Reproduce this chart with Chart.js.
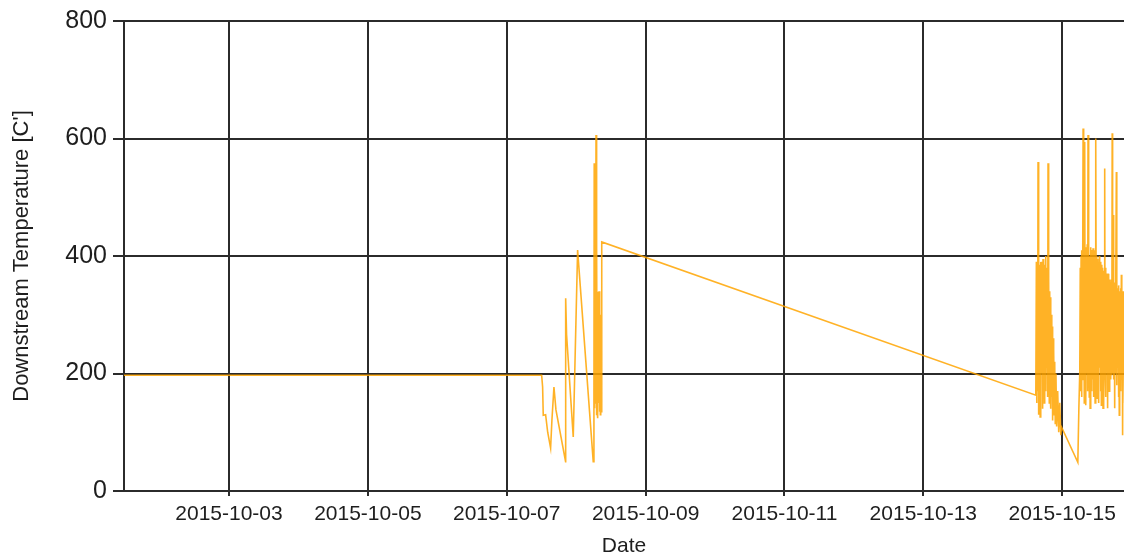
<!DOCTYPE html>
<html>
<head>
<meta charset="utf-8">
<script src="https://cdn.jsdelivr.net/npm/chart.js@4/dist/chart.umd.min.js"></script>
<style>
    body { margin: 0; background: #fff; }
    #wrap { width: 1124px; height: 560px; }
</style>
</head>
<body>
<div id="wrap"><canvas id="grafica"></canvas></div>
<script>
// Temperatura aguas abajo. x = días desde 2015-10-01 00:00

// Tramo 1: valor fijo y primera ráfaga (10-07 / 10-08)
var diasTramo1 = [
    0.30, 6.492, 6.503, 6.517, 6.526, 6.560, 6.590, 6.632, 6.651, 6.680,
    6.709, 6.848, 6.849, 6.862, 6.958, 7.021,
    7.246, 7.256, 7.260, 7.264, 7.268, 7.272, 7.276, 7.280, 7.286, 7.292,
    7.297, 7.302, 7.307, 7.312, 7.318, 7.324, 7.330, 7.336, 7.342, 7.348,
    7.354, 7.360, 7.366, 7.371
];
var tempTramo1 = [
    197, 197, 197, 177, 129, 130, 100, 73, 121, 177,
    138, 50, 328, 266, 92, 410,
    50, 160, 558, 141, 540, 150, 330, 180, 606, 129,
    420, 140, 339, 124, 300, 150, 340, 135, 260, 130,
    300, 135, 250, 424
];

// Tramo 2: ráfaga del 10-14
var diasTramo2 = [
    13.620, 13.628, 13.634, 13.640, 13.646, 13.652, 13.658, 13.664, 13.670, 13.676,
    13.682, 13.688, 13.694, 13.700, 13.706, 13.712, 13.718, 13.724, 13.730, 13.736,
    13.742, 13.748, 13.754, 13.760, 13.766, 13.772, 13.778, 13.784, 13.790, 13.796,
    13.802, 13.808, 13.814, 13.820, 13.826, 13.832, 13.838, 13.844, 13.850, 13.856,
    13.862, 13.868, 13.874, 13.880, 13.886, 13.892, 13.900, 13.910, 13.920, 13.935,
    13.950, 13.965, 13.980, 13.990
];
var tempTramo2 = [
    163, 390, 150, 385, 170, 560, 130, 380, 200, 385,
    126, 390, 180, 390, 200, 360, 140, 395, 190, 375,
    150, 385, 200, 400, 170, 380, 210, 360, 160, 558,
    190, 360, 150, 340, 170, 330, 140, 300, 160, 280,
    120, 260, 150, 240, 130, 220, 115, 200, 110, 170,
    100, 150, 95, 109
];

// Tramo 3: ráfaga del 10-15
var diasTramo3 = [
    14.225, 14.240, 14.253, 14.260, 14.266, 14.272, 14.278, 14.284, 14.290, 14.296,
    14.301, 14.306, 14.312, 14.318, 14.324, 14.330, 14.336, 14.342, 14.348, 14.354,
    14.360, 14.366, 14.372, 14.378, 14.384, 14.390, 14.396, 14.402, 14.408, 14.414,
    14.420, 14.426, 14.432, 14.438, 14.444, 14.450, 14.456, 14.462, 14.468, 14.474,
    14.480, 14.486, 14.492, 14.498, 14.504, 14.510, 14.516, 14.522, 14.528, 14.534,
    14.540, 14.546, 14.552, 14.558, 14.564, 14.570, 14.576, 14.582, 14.588, 14.594,
    14.600, 14.606, 14.612, 14.618, 14.624, 14.630, 14.636, 14.642, 14.648, 14.654,
    14.660, 14.666, 14.672, 14.678, 14.684, 14.690, 14.696, 14.702, 14.708, 14.714,
    14.720, 14.726, 14.732, 14.738, 14.744, 14.750, 14.756, 14.762, 14.768, 14.774,
    14.780, 14.786, 14.792, 14.798, 14.804, 14.810, 14.816, 14.822, 14.828, 14.834,
    14.840, 14.846, 14.852, 14.858, 14.864, 14.870, 14.876, 14.882, 14.888, 14.900,
    14.920
];
var tempTramo3 = [
    49, 141, 203, 380, 170, 400, 160, 410, 190, 405,
    617, 200, 410, 150, 594, 180, 415, 146, 410, 200,
    420, 170, 606, 190, 410, 160, 400, 141, 415, 200,
    405, 170, 410, 190, 413, 160, 400, 200, 410, 150,
    405, 600, 190, 400, 158, 395, 200, 390, 150, 400,
    210, 380, 170, 390, 146, 385, 200, 380, 141, 375,
    190, 370, 549, 200, 380, 160, 370, 210, 360, 141,
    370, 200, 365, 170, 360, 210, 355, 190, 360, 197,
    609, 200, 360, 470, 190, 350, 141, 355, 200, 350,
    543, 180, 345, 210, 340, 160, 350, 129, 340, 200,
    345, 170, 368, 190, 330, 95, 340, 200, 330, 150,
    320
];

var tickDays = [2, 4, 6, 8, 10, 12, 14];
var dateLabels = ['2015-10-03', '2015-10-05', '2015-10-07', '2015-10-09',
    '2015-10-11', '2015-10-13', '2015-10-15'];

var gridColor = '#2b2b2b';
var textColor = '#1e1e1e';
var fontFamily = '"Liberation Sans", Arial, sans-serif';

var dias = diasTramo1.concat(diasTramo2, diasTramo3);
var temps = tempTramo1.concat(tempTramo2, tempTramo3);
var puntos = [];
for (var i = 0; i < dias.length; i++) {
    puntos.push({ x: dias[i], y: temps[i] });
}

var context = document.getElementById('grafica').getContext('2d');

var chart = new Chart(context, {
    type: 'line',
    data: {
        datasets: [{
            label: 'Downstream Temperature',
            data: puntos,
            borderColor: 'rgba(255, 165, 0, 0.85)',
            borderWidth: 1.6,
            pointRadius: 0,
            tension: 0,
            fill: false
        }]
    },
    options: {
        responsive: true,
        maintainAspectRatio: false,
        animation: false,
        layout: { padding: { top: 21, right: 0, left: 0, bottom: 0 } },
        plugins: {
            legend: { display: false },
            tooltip: { enabled: false }
        },
        scales: {
            x: {
                type: 'linear',
                min: 0.488,
                max: 14.89,
                afterBuildTicks: function (scale) {
                    scale.ticks = tickDays.map(function (d) { return { value: d }; });
                },
                afterFit: function (scale) { scale.height = 69; },
                ticks: {
                    autoSkip: false,
                    maxRotation: 0,
                    padding: 6,
                    color: textColor,
                    font: { family: fontFamily, size: 21 },
                    callback: function (value) {
                        return dateLabels[tickDays.indexOf(value)];
                    }
                },
                grid: { color: gridColor, lineWidth: 2, tickLength: 5 },
                border: { color: gridColor, width: 2 },
                title: {
                    display: true,
                    text: 'Date',
                    color: textColor,
                    font: { family: fontFamily, size: 21 },
                    padding: { top: 0, bottom: 1 }
                }
            },
            y: {
                min: 0,
                max: 800,
                afterFit: function (scale) { scale.width = 124; },
                ticks: {
                    stepSize: 200,
                    padding: 6,
                    color: textColor,
                    font: { family: fontFamily, size: 25 }
                },
                grid: { color: gridColor, lineWidth: 2, tickLength: 11 },
                border: { color: gridColor, width: 2 },
                title: {
                    display: true,
                    text: "Downstream Temperature [C']",
                    color: textColor,
                    font: { family: fontFamily, size: 22 },
                    padding: { top: 9, bottom: 0 }
                }
            }
        }
    }
});
</script>
</body>
</html>
